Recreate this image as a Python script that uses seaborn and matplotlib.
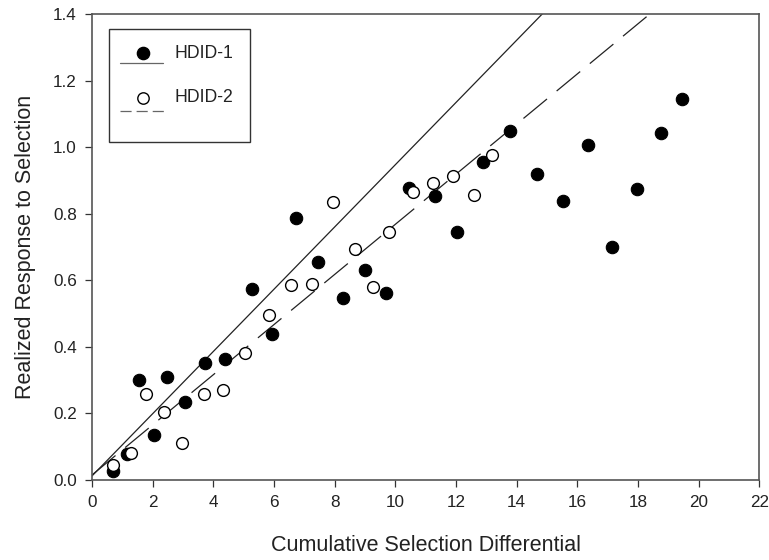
import numpy as np
import pandas as pd
import matplotlib
matplotlib.use("Agg")
import matplotlib.pyplot as plt
from matplotlib.patches import Rectangle
import seaborn as sns

# Cumulative selection differential (x) and realized response (y) per generation
hdid1_x = [0.68, 1.14, 1.55, 2.05, 2.47, 3.06, 3.72, 4.40, 5.27, 5.95, 6.74, 7.46,
           8.27, 9.00, 9.71, 10.45, 11.30, 12.05, 12.88, 13.77, 14.68, 15.53, 16.37,
           17.16, 17.98, 18.77, 19.45]
hdid1_y = [0.027, 0.078, 0.300, 0.136, 0.310, 0.235, 0.350, 0.364, 0.573, 0.440, 0.786,
           0.656, 0.548, 0.630, 0.562, 0.878, 0.852, 0.745, 0.955, 1.048, 0.918, 0.837,
           1.007, 0.699, 0.874, 1.042, 1.145]

hdid2_x = [0.70, 1.28, 1.79, 2.39, 2.96, 3.68, 4.33, 5.03, 5.83, 6.55, 7.24, 7.95,
           8.67, 9.27, 9.79, 10.59, 11.23, 11.90, 12.61, 13.18]
hdid2_y = [0.045, 0.080, 0.257, 0.204, 0.110, 0.259, 0.271, 0.380, 0.496, 0.586, 0.589,
           0.836, 0.694, 0.580, 0.745, 0.864, 0.891, 0.912, 0.855, 0.975]

# Linear regression fits (intercept, slope)
hdid1_fit = (0.012, 0.0935)
hdid2_fit = (0.015, 0.0753)

x_ticks = [0, 2, 4, 6, 8, 10, 12, 14, 16, 18, 20, 22]
y_ticks = [0.0, 0.2, 0.4, 0.6, 0.8, 1.0, 1.2, 1.4]
series_names = ["HDID-1", "HDID-2"]

sns.set_theme(style="ticks")
plt.rcParams["font.family"] = ["Liberation Sans", "DejaVu Sans"]
plt.rcParams["lines.scale_dashes"] = False

df1 = pd.DataFrame({"x": hdid1_x, "y": hdid1_y})
df2 = pd.DataFrame({"x": hdid2_x, "y": hdid2_y})

fig = plt.figure(figsize=(7.69, 5.60), dpi=100)
ax = fig.add_axes([0.1196, 0.1429, 0.8677, 0.8321])

xs = np.linspace(0, 22, 200)
ax.plot(xs, hdid1_fit[0] + hdid1_fit[1] * xs, color="#222222", lw=0.9, zorder=2)
ax.plot(xs, hdid2_fit[0] + hdid2_fit[1] * xs, color="#222222", lw=0.9,
        dashes=(22, 9), zorder=2)

sns.scatterplot(data=df1, x="x", y="y", ax=ax, color="black", edgecolor="black",
                s=80, linewidth=0.8, zorder=3, legend=False)
sns.scatterplot(data=df2, x="x", y="y", ax=ax, color="white", edgecolor="black",
                s=72, linewidth=1.0, zorder=4, legend=False)

ax.set_xlim(0, 22)
ax.set_ylim(0, 1.4)
ax.set_xticks(x_ticks)
ax.set_xticklabels([str(t) for t in x_ticks])
ax.set_yticks(y_ticks)
ax.set_yticklabels([f"{t:.1f}" for t in y_ticks])
ax.tick_params(axis="both", direction="out", length=4.8, width=0.9, color="#333333",
               labelsize=12.3, labelcolor="#222222", pad=6)

for sp in ax.spines.values():
    sp.set_visible(True)
    sp.set_color("#555555")
    sp.set_linewidth(1.2)

ax.set_xlabel("Cumulative Selection Differential", fontsize=15.5, color="#222222",
              labelpad=18)
ax.set_ylabel("Realized Response to Selection", fontsize=15.5, color="#222222",
              labelpad=12)

# Legend: marker stacked above its line sample
tr = ax.transAxes
ax.add_patch(Rectangle((0.0255, 0.7253), 0.2114, 0.2425, transform=tr, fill=True,
                       facecolor="white", edgecolor="#333333", lw=1.0, zorder=5,
                       clip_on=False))
ax.plot([0.0765], [0.9166], transform=tr, marker="o", ms=8.8, color="black",
        mec="black", ls="none", zorder=6, clip_on=False)
ax.plot([0.042, 0.1064], [0.8948, 0.8948], transform=tr, color="#666666", lw=0.9,
        zorder=6, clip_on=False)
ax.plot([0.0765], [0.8197], transform=tr, marker="o", ms=8.2, mfc="white",
        mec="black", mew=1.0, ls="none", zorder=6, clip_on=False)
ax.plot([0.042, 0.1110], [0.7925, 0.7925], transform=tr, color="#666666", lw=0.9,
        dashes=(8, 3.6), zorder=6, clip_on=False)
ax.text(0.1244, 0.9147, series_names[0], transform=tr, fontsize=12.7, va="center",
        ha="left", color="#222222", zorder=6)
ax.text(0.1244, 0.8212, series_names[1], transform=tr, fontsize=12.7, va="center",
        ha="left", color="#222222", zorder=6)

fig.savefig("out.png", dpi=100)
